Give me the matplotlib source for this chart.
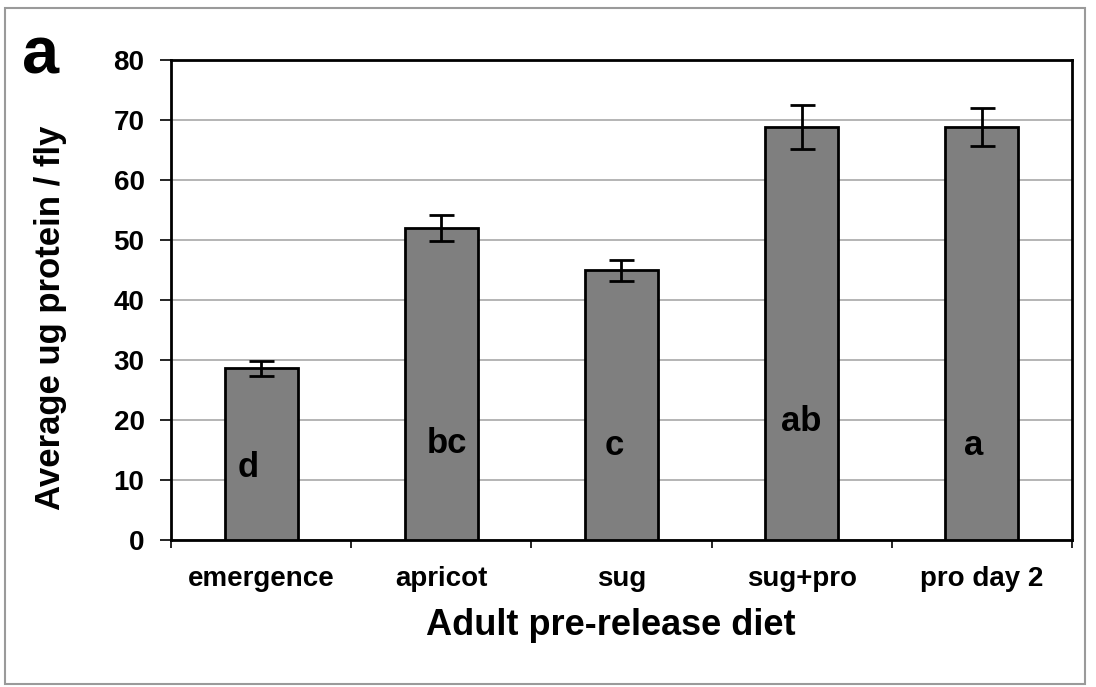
import numpy as np
import matplotlib.pyplot as plt
from matplotlib.patches import Rectangle

plt.rcParams['font.family'] = ['Liberation Sans', 'DejaVu Sans']
plt.rcParams['font.weight'] = 'bold'

dietas = ['emergence', 'apricot', 'sug', 'sug+pro', 'pro day 2']
proteina = [28.6, 52.0, 44.9, 68.8, 68.8]
error = [1.3, 2.2, 1.7, 3.6, 3.1]
letras = ['d', 'bc', 'c', 'ab', 'a']
altura_letras = [12.0, 16.0, 15.8, 19.8, 15.8]
# pequeño desplazamiento horizontal de las letras (como en el original)
desplazamiento = [-0.07, 0.03, -0.04, 0.0, -0.047]

fig = plt.figure(figsize=(10.96, 6.87), dpi=100)
ax = fig.add_axes([0.156, 0.214, 0.822, 0.699])

# marco gris alrededor de la figura
fig.patches.append(Rectangle((0.005, 0.005), 0.985, 0.984, transform=fig.transFigure,
                             fill=False, edgecolor='#9a9a9a', linewidth=1.5))

x = np.arange(len(dietas))
ax.bar(x, proteina, width=0.405, color='#7f7f7f', edgecolor='black', linewidth=2, zorder=3)
ax.errorbar(x, proteina, yerr=error, fmt='none', ecolor='black', elinewidth=2,
            capsize=9, capthick=2, zorder=4)

for xi, letra, h, dx in zip(x, letras, altura_letras, desplazamiento):
    ax.text(xi + dx, h, letra, ha='center', va='center', fontsize=25, fontweight='bold', zorder=5)

ax.set_xlim(-0.5, len(dietas) - 0.5)
ax.set_ylim(0, 80)
ax.set_yticks(np.arange(0, 81, 10))
ax.set_xticks(np.arange(-0.5, len(dietas), 1.0))
ax.set_xticklabels([])
ax.set_xticks(x, minor=True)
ax.set_xticklabels(dietas, minor=True, fontsize=20, fontweight='bold')
ax.tick_params(axis='x', which='minor', length=0, pad=19)
ax.tick_params(axis='x', which='major', length=6, width=1.2, direction='out')
ax.tick_params(axis='y', length=8, width=1.2, direction='out', labelsize=20, pad=11)
for lab in ax.get_yticklabels():
    lab.set_fontweight('bold')

ax.grid(axis='y', color='#a8a8a8', linewidth=1.2, zorder=0)
for s in ax.spines.values():
    s.set_linewidth(2)

ax.set_xlabel('Adult pre-release diet', fontsize=26, fontweight='bold')
ax.xaxis.set_label_coords(0.488, -0.178)
ax.xaxis.label.set_va('center')
ax.set_ylabel('Average ug protein / fly', fontsize=25, fontweight='bold')
ax.yaxis.set_label_coords(-0.134, 0.4625)
ax.yaxis.label.set_va('center')

fig.text(0.037, 0.918, 'a', fontsize=48, fontweight='bold', ha='center', va='center')

plt.savefig('out.png', dpi=100)
